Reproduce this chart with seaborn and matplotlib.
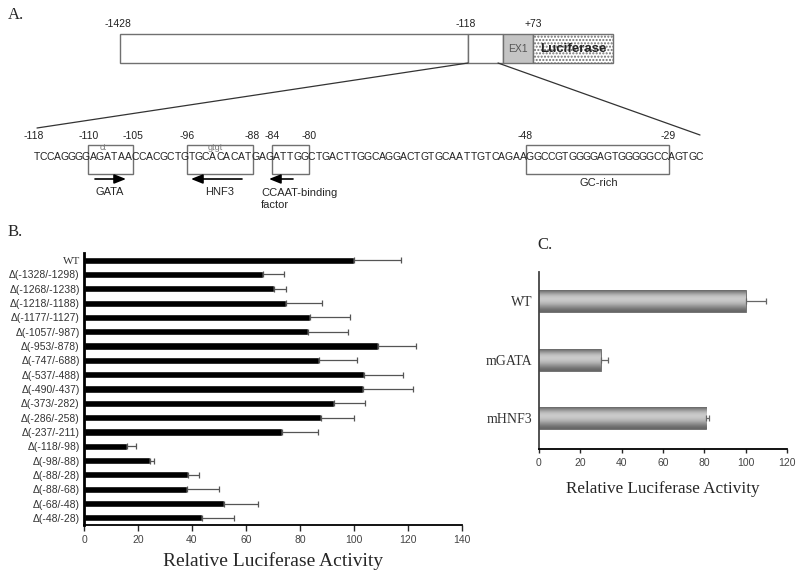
import numpy as np
import pandas as pd
import matplotlib
matplotlib.use("Agg")
import matplotlib.pyplot as plt
from matplotlib.patches import Rectangle
import seaborn as sns

sns.set_style("white")
plt.rcParams["font.family"] = ["Liberation Sans", "DejaVu Sans"]
plt.rcParams["hatch.color"] = "#b0b0b0"

# ---- panel B: deletion constructs ----
deletions = ["WT", "Δ(-1328/-1298)", "Δ(-1268/-1238)", "Δ(-1218/-1188)", "Δ(-1177/-1127)",
             "Δ(-1057/-987)", "Δ(-953/-878)", "Δ(-747/-688)", "Δ(-537/-488)", "Δ(-490/-437)",
             "Δ(-373/-282)", "Δ(-286/-258)", "Δ(-237/-211)", "Δ(-118/-98)", "Δ(-98/-88)",
             "Δ(-88/-28)", "Δ(-88/-68)", "Δ(-68/-48)", "Δ(-48/-28)"]
activity_b = [100, 66.4, 70.5, 74.8, 83.7, 82.8, 108.8, 86.9, 103.8, 103.5,
              92.7, 87.7, 73.5, 16.0, 24.4, 38.6, 38.3, 52.0, 43.6]
err_b = [17.4, 7.6, 4.3, 13.2, 14.8, 15.1, 14.2, 14.3, 14.5, 18.5,
         11.3, 12.3, 13.3, 3.3, 1.5, 4.1, 11.7, 12.6, 12.1]

# ---- panel C: site mutants ----
mutants = ["WT", "mGATA", "mHNF3"]
activity_c = [100, 29.8, 81.0]
err_c = [10.0, 3.8, 1.2]

# ---- panel A: promoter map ----
sequence = ("TCCAGGGGAGATAACCACGCTGTGCACACATGAGATTGGCTGACTTGGCAGG"
            "ACTGTGCAATTGTCAGAAGGCCGTGGGGAGTGGGGGCCAGTGC")
seq_start = -118
site_names = ["GATA", "HNF3", "CCAAT-binding\nfactor", "GC-rich"]
site_from = [-110, -96, -84, -48]
site_to = [-105, -88, -80, -29]

fig = plt.figure(figsize=(8, 5.81), dpi=100)

# overlay axes in pixel units for the diagram and panel letters
ov = fig.add_axes([0, 0, 1, 1])
ov.set_xlim(0, 800)
ov.set_ylim(581, 0)
ov.axis("off")

edge = "#707070"
ov.add_patch(Rectangle((120, 34), 348, 29, fc="white", ec=edge, lw=1))
ov.add_patch(Rectangle((468, 34), 35, 29, fc="white", ec=edge, lw=1))
ov.add_patch(Rectangle((503, 34), 30, 29, fc="#c4c4c4", ec=edge, lw=1))
ov.add_patch(Rectangle((533, 34), 80, 29, fc="white", ec=edge, lw=1, hatch="....."))
ov.text(518, 49, "EX1", ha="center", va="center", fontsize=7.5, color="#555555")
ov.text(573, 49, "Luciferase", ha="center", va="center", fontsize=9.5, fontweight="bold")
for xx, lab in [(118, "-1428"), (466, "-118"), (533, "+73")]:
    ov.text(xx, 24, lab, ha="center", va="center", fontsize=7.5, color="#222222")
ov.plot([468, 37], [63, 128], color="#333333", lw=0.9)
ov.plot([498, 700], [63, 135], color="#333333", lw=0.9)

x0, cw = 33, 7.05
xs = x0 + (np.arange(len(sequence)) + 0.5) * cw
for xc, ch in zip(xs, sequence):
    ov.text(xc, 157, ch, ha="center", va="center", fontsize=7.5, color="#222222")
ov.text(34, 136, str(seq_start), ha="center", va="center", fontsize=7.5, color="#222222")
for name, a, b in zip(site_names, site_from, site_to):
    left = x0 + (a - seq_start) * cw - 1
    right = x0 + (b - seq_start + 1) * cw + 1
    ov.add_patch(Rectangle((left, 145), right - left, 29, fc="none", ec=edge, lw=1))
    ov.text(left, 136, str(a), ha="center", va="center", fontsize=7.5, color="#222222")
    ov.text(right, 136, str(b), ha="center", va="center", fontsize=7.5, color="#222222")

ov.text(103, 148, "ct", ha="center", va="center", fontsize=6.5, color="#777777")
ov.text(215, 148, "gtgt", ha="center", va="center", fontsize=6.5, color="#777777")

arrow = dict(arrowstyle="-|>,head_length=0.7,head_width=0.28", color="black", lw=1.2,
             shrinkA=0, shrinkB=0)
ov.annotate("", xy=(126, 179), xytext=(95, 179), arrowprops=arrow)
ov.annotate("", xy=(191, 179), xytext=(242, 179), arrowprops=arrow)
ov.annotate("", xy=(269, 179), xytext=(293, 179), arrowprops=arrow)
ov.text(110, 192, site_names[0], ha="center", va="center", fontsize=8)
ov.text(220, 192, site_names[1], ha="center", va="center", fontsize=8)
ov.text(261, 199, site_names[2], ha="left", va="center", fontsize=8, linespacing=1.3)
ov.text(599, 183, site_names[3], ha="center", va="center", fontsize=8)

for xx, yy, lab in [(8, 15, "A."), (8, 232, "B."), (537, 245, "C.")]:
    ov.text(xx, yy, lab, ha="left", va="center", fontsize=12, family="Liberation Serif")

# ---- panel B ----
axb = fig.add_axes([84 / 800, 1 - 525 / 581, 378 / 800, 272 / 581])
df_b = pd.DataFrame({"construct": deletions, "activity": activity_b, "err": err_b})
sns.barplot(data=df_b, x="activity", y="construct", orient="h", color="black",
            width=0.5, errorbar=None, ax=axb, saturation=1)
ypos = np.arange(len(deletions))
axb.errorbar(df_b["activity"], ypos, xerr=[np.zeros(len(ypos)), df_b["err"]],
             fmt="none", ecolor="#555555", elinewidth=0.9, capsize=2, capthick=0.9)
axb.set_xlim(0, 140)
axb.set_ylim(len(deletions) - 0.5, -0.5)
axb.set_xticks(np.arange(0, 141, 20))
axb.set_xlabel("Relative Luciferase Activity", family="Liberation Serif", fontsize=14,
               labelpad=5)
axb.set_ylabel("")
axb.tick_params(axis="x", length=4, width=1, labelsize=7.5, labelcolor="#444444",
                direction="out", bottom=True)
axb.tick_params(axis="y", length=0, labelsize=7.5, labelcolor="#333333", pad=3)
for t in axb.get_yticklabels():
    t.set_family(["Liberation Sans", "DejaVu Sans"])
    if t.get_text() == "WT":
        t.set_family("Liberation Serif")
        t.set_fontsize(8)
for t in axb.get_xticklabels():
    t.set_family(["Liberation Sans", "DejaVu Sans"])
sns.despine(ax=axb)
axb.spines["left"].set_linewidth(2)
axb.spines["bottom"].set_linewidth(1.3)
axb.spines["left"].set_color("black")
axb.spines["bottom"].set_color("black")

# ---- panel C ----
axc = fig.add_axes([539 / 800, 1 - 449 / 581, 248 / 800, 177 / 581])
df_c = pd.DataFrame({"mutant": mutants, "activity": activity_c, "err": err_c})
sns.barplot(data=df_c, x="activity", y="mutant", orient="h", color="#999999",
            width=0.38, errorbar=None, ax=axc, saturation=1)
shade = np.array([0.38, 0.5, 0.62, 0.72, 0.78, 0.8, 0.78, 0.74, 0.68, 0.6, 0.52, 0.45, 0.4])
for p in axc.patches:
    bx, by, bw, bh = p.get_x(), p.get_y(), p.get_width(), p.get_height()
    im = axc.imshow(shade[:, None], cmap="gray", vmin=0, vmax=1, aspect="auto",
                    extent=[bx, bx + bw, by + bh, by], zorder=p.get_zorder() + 0.1,
                    interpolation="bicubic")
    im.set_clip_path(p)
    p.set_edgecolor("#666666")
    p.set_linewidth(0.6)
cpos = np.arange(len(mutants))
axc.errorbar(df_c["activity"], cpos, xerr=[np.zeros(len(cpos)), df_c["err"]],
             fmt="none", ecolor="#666666", elinewidth=0.9, capsize=2, capthick=0.9, zorder=5)
axc.set_xlim(0, 120)
axc.set_ylim(2.53, -0.5)
axc.set_xticks(np.arange(0, 121, 20))
axc.set_xlabel("Relative Luciferase Activity", family="Liberation Serif", fontsize=12.3,
               labelpad=9)
axc.set_ylabel("")
axc.tick_params(axis="x", length=3, width=1, labelsize=7.5, labelcolor="#444444",
                direction="out", bottom=True)
axc.tick_params(axis="y", length=0, labelsize=10, labelcolor="#333333", pad=5)
for t in axc.get_yticklabels():
    t.set_family("Liberation Serif")
for t in axc.get_xticklabels():
    t.set_family(["Liberation Sans", "DejaVu Sans"])
sns.despine(ax=axc)
axc.spines["left"].set_linewidth(1.3)
axc.spines["bottom"].set_linewidth(1.3)
axc.spines["left"].set_color("#444444")
axc.spines["bottom"].set_color("black")

fig.savefig("out.png", dpi=100)
